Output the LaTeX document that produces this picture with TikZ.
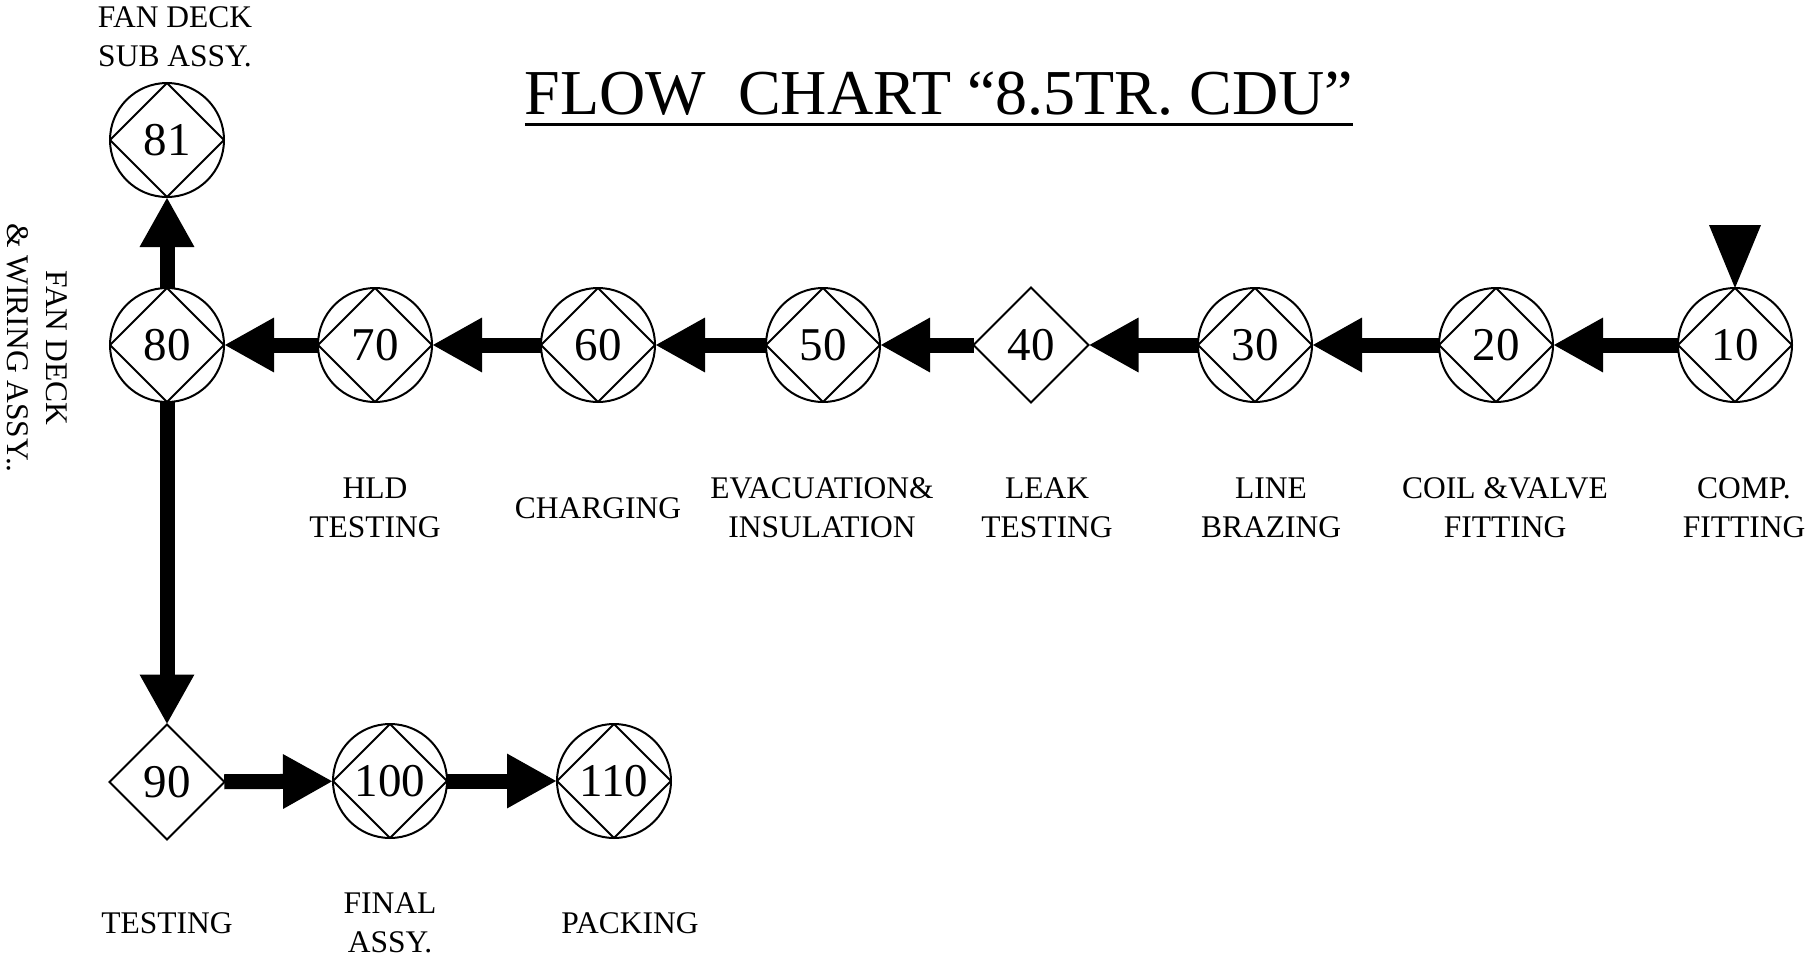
\documentclass[tikz,border=0pt]{standalone}
\usepackage{fontspec}
\setmainfont{Liberation Serif}
\usetikzlibrary{shapes.geometric,arrows.meta}

\tikzset{
  opstep/.style={circle,draw,line width=2pt,minimum size=114pt,inner sep=0pt,outer sep=0pt,
    font=\fontsize{47}{50}\selectfont,
    path picture={\draw[line width=2pt] (path picture bounding box.north) -- (path picture bounding box.east)
      -- (path picture bounding box.south) -- (path picture bounding box.west) -- cycle;}},
  inspect/.style={diamond,draw,line width=2pt,minimum width=115pt,minimum height=115pt,
    inner sep=0pt,outer sep=0pt,font=\fontsize{47}{50}\selectfont},
  flow/.style={line width=15pt,-{Triangle[length=50pt,width=51pt]}},
  caption/.style={align=center,inner sep=0pt,font=\fontsize{31.5}{39}\selectfont}
}

\begin{document}
\begin{tikzpicture}[x=1pt,y=1pt]
    \useasboundingbox (0,0) rectangle (1810,-958);
    \node[anchor=base,inner sep=0pt,font=\fontsize{64}{70}\selectfont] (title) at (939,-114) {FLOW\ \ CHART “8.5TR. CDU”};
    \draw[line width=3pt] ([yshift=-10pt]title.base west) -- ([yshift=-10pt]title.base east);

    \foreach \n/\x in {10/1735,20/1496,30/1255,50/823,60/598,70/375,80/167}
        \node[opstep] (s\n) at (\x,-345) {\n};
    \node[inspect] (s40) at (1031,-345) {40};
    \node[opstep] (s81) at (167,-140) {81};
    \node[inspect] (s90) at (167,-782) {90};
    \node[opstep] (s100) at (390,-781) {100};
    \node[opstep] (s110) at (614,-781) {110};

    \fill (s10.north) -- ++(-26,63) -- ++(52,0) -- cycle;
    \foreach \a/\b in {10/20,20/30,30/40,40/50,50/60,60/70,70/80,80/81,80/90,90/100,100/110}
        \draw[flow] (s\a) -- (s\b);

    \node[caption] (c81) at (175,-37) {FAN DECK\\SUB ASSY.};
    \node[caption,rotate=-90] (c80) at (37,-348) {FAN DECK\\\& WIRING ASSY..};
    \node[caption] (c70) at (375,-508) {HLD\\TESTING};
    \node[caption] (c60) at (598,-508) {CHARGING};
    \node[caption] (c50) at (822,-508) {EVACUATION\&\\INSULATION};
    \node[caption] (c40) at (1047,-508) {LEAK\\TESTING};
    \node[caption] (c30) at (1271,-508) {LINE\\BRAZING};
    \node[caption] (c20) at (1505,-508) {COIL \&VALVE\\FITTING};
    \node[caption] (c10) at (1744,-508) {COMP.\\FITTING};
    \node[caption] (c90) at (167,-923) {TESTING};
    \node[caption] (c100) at (390,-923) {FINAL\\ASSY.};
    \node[caption] (c110) at (630,-923) {PACKING};
\end{tikzpicture}
\end{document}
